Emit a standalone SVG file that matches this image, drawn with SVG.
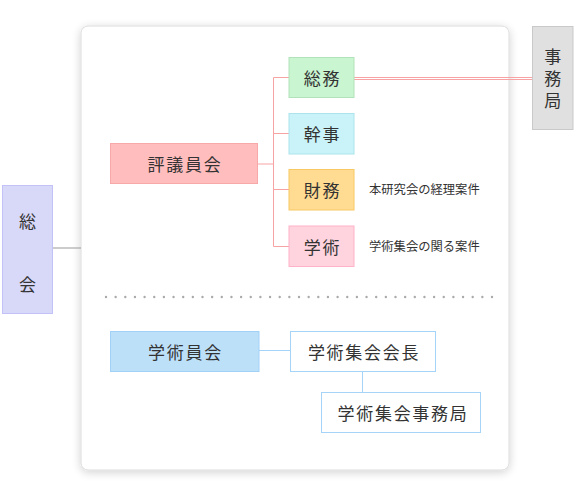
<svg xmlns="http://www.w3.org/2000/svg" width="576" height="499" viewBox="0 0 576 499">
<defs>
<filter id="sh" x="-10%" y="-10%" width="120%" height="120%">
<feGaussianBlur in="SourceAlpha" stdDeviation="5"/>
<feOffset dx="0" dy="2"/>
<feComponentTransfer><feFuncA type="linear" slope="0.18"/></feComponentTransfer>
<feMerge><feMergeNode/><feMergeNode in="SourceGraphic"/></feMerge>
</filter>
</defs>
<style>
text{font-family:"Noto Sans CJK JP","Noto Sans",sans-serif;fill:#333;}
.t{font-size:17px;text-anchor:middle;dominant-baseline:central;letter-spacing:1.7px;}
.v{font-size:17px;dominant-baseline:central;}
.s{font-size:12.3px;dominant-baseline:central;}
.c{fill:none;stroke-width:1;}
</style>
<rect id="panel" x="81" y="26" width="428" height="444" rx="7" fill="#fff" stroke="#dcdcdc" filter="url(#sh)"/>
<g id="connectors">
<line class="c" x1="53" y1="248" x2="81" y2="248" stroke="#999"/>
<line class="c" x1="258" y1="164" x2="273.5" y2="164" stroke="#f7a3a3"/>
<line class="c" x1="273.5" y1="77.5" x2="273.5" y2="246.5" stroke="#f7a3a3"/>
<line class="c" x1="273.5" y1="77.5" x2="289" y2="77.5" stroke="#f7a3a3"/>
<line class="c" x1="273.5" y1="133.5" x2="289" y2="133.5" stroke="#f7a3a3"/>
<line class="c" x1="273.5" y1="189.5" x2="289" y2="189.5" stroke="#f7a3a3"/>
<line class="c" x1="273.5" y1="246.5" x2="289" y2="246.5" stroke="#f7a3a3"/>
<line class="c" x1="354" y1="77.5" x2="532" y2="77.5" stroke="#f7a3a3"/>
<line class="c" x1="354" y1="79.5" x2="532" y2="79.5" stroke="#f7a3a3"/>
<line class="c" x1="259" y1="350.5" x2="290" y2="350.5" stroke="#a6d3f8"/>
<line class="c" x1="362.5" y1="371.5" x2="362.5" y2="392.5" stroke="#a6d3f8"/>
</g>
<line id="divider" x1="106" y1="297" x2="492" y2="297" stroke="#aaa" stroke-width="2.4" stroke-linecap="round" stroke-dasharray="0 9.65"/>
<g id="soukai">
<rect x="2.5" y="185.5" width="50" height="128" fill="#d8d8f8" stroke="#c2c2f8"/>
<text class="v" x="27.5" y="220" text-anchor="middle">総</text>
<text class="v" x="27.5" y="283" text-anchor="middle">会</text>
</g>
<g id="jimukyoku">
<rect x="532.5" y="26.5" width="40.5" height="103" fill="#e0e0e0" stroke="#c9c9c9"/>
<text x="552.75" y="81" font-size="17" writing-mode="vertical-rl" text-anchor="middle" letter-spacing="5">事務局</text>
</g>
<g id="hyogiinkai">
<rect x="110.5" y="143.5" width="147" height="40" fill="#ffbdbd" stroke="#f7a8a8"/>
<text class="t" x="185" y="163.5">評議員会</text>
</g>
<g id="somu">
<rect x="289" y="57.5" width="65" height="40" fill="#c9f5d0" stroke="#b2e2ba"/>
<text class="t" x="322.5" y="77.5">総務</text>
</g>
<g id="kanji">
<rect x="289" y="113.5" width="65" height="40.5" fill="#c9f3f8" stroke="#ade4ec"/>
<text class="t" x="322.5" y="133.5">幹事</text>
</g>
<g id="zaimu">
<rect x="289" y="169.5" width="65" height="40.5" fill="#ffdc92" stroke="#f8c862"/>
<text class="t" x="322.5" y="189.5">財務</text>
<text class="s" x="369" y="189">本研究会の経理案件</text>
</g>
<g id="gakujutsu">
<rect x="289" y="226" width="65" height="40.5" fill="#ffd4df" stroke="#ffb2c8"/>
<text class="t" x="322.5" y="246">学術</text>
<text class="s" x="369" y="246">学術集会の関る案件</text>
</g>
<g id="gakujutsuinkai">
<rect x="110.5" y="331.5" width="148.5" height="40" fill="#bde0f9" stroke="#a2d1f8"/>
<text class="t" x="185.5" y="351">学術員会</text>
</g>
<g id="kaicho">
<rect x="290.5" y="331.5" width="145" height="40" fill="#fff" stroke="#a6d3f8"/>
<text class="t" x="364" y="351">学術集会会長</text>
</g>
<g id="jimukyoku2">
<rect x="321.5" y="392.5" width="159" height="40" fill="#fff" stroke="#a6d3f8"/>
<text class="t" x="403" y="412.5">学術集会事務局</text>
</g>
</svg>
